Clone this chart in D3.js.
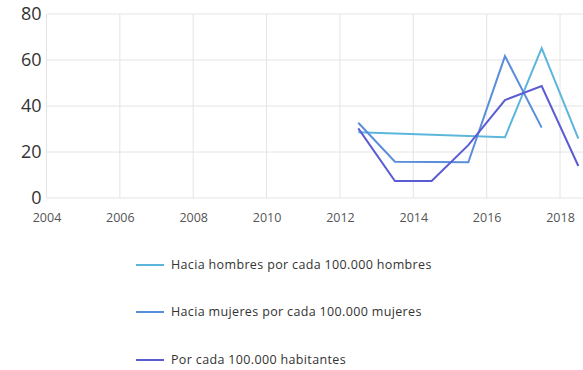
<!DOCTYPE html>
<html><head><meta charset="utf-8">
<script src="https://cdn.jsdelivr.net/npm/d3@7"></script>
<style>body{margin:0;background:#fff;}svg{display:block;}</style>
</head><body>
<div id="chart"></div>
<script>
const xTicks = [2004, 2006, 2008, 2010, 2012, 2014, 2016, 2018];
const yTicks = [0, 20, 40, 60, 80];
const seriesNames = ["Hacia hombres por cada 100.000 hombres", "Hacia mujeres por cada 100.000 mujeres", "Por cada 100.000 habitantes"];
const colors = ["#5cb6dc", "#5a8edb", "#5b5bd3"];
const hombresYears = [2012.5, 2016.5, 2017.5, 2018.5];
const hombresValues = [28.6, 26.4, 65.2, 25.8];
const mujeresYears = [2012.5, 2013.5, 2014.5, 2015.5, 2016.5, 2017.5];
const mujeresValues = [32.7, 15.8, 15.7, 15.5, 61.7, 30.6];
const habitantesYears = [2012.5, 2013.5, 2014.5, 2015.5, 2016.5, 2017.5, 2018.5];
const habitantesValues = [30.3, 7.4, 7.4, 23.0, 42.6, 48.7, 13.9];

const W = 583, H = 370;
const svg = d3.select("#chart").append("svg").attr("width", W).attr("height", H);
const x = d3.scaleLinear().domain([2004, 2018]).range([46.5, 560]);
const y = d3.scaleLinear().domain([0, 80]).range([198, 14]);
const plotRight = W;

// gridlines
const g = svg.append("g");
g.selectAll(".hg").data(yTicks).enter().append("line")
  .attr("x1", x(2004)).attr("x2", plotRight)
  .attr("y1", d => y(d)).attr("y2", d => y(d))
  .attr("stroke", "#e4e4e4").attr("stroke-width", 1);
g.selectAll(".vg").data(xTicks).enter().append("line")
  .attr("x1", d => x(d)).attr("x2", d => x(d))
  .attr("y1", y(80)).attr("y2", y(0))
  .attr("stroke", "#e4e4e4").attr("stroke-width", 1);

// axes
const yAxis = d3.axisLeft(y).tickValues(yTicks).tickSize(0).tickPadding(5).tickFormat(d3.format("d"));
const ya = svg.append("g").attr("transform", `translate(${x(2004)},0)`).call(yAxis);
ya.select(".domain").remove();
ya.selectAll("text").attr("font-family", "'Open Sans', sans-serif").attr("font-size", 18).attr("fill", "#333").attr("dy", "0.3em");

const xAxis = d3.axisBottom(x).tickValues(xTicks).tickSize(0).tickPadding(15).tickFormat(d3.format("d"));
const xa = svg.append("g").attr("transform", `translate(0,${y(0)})`).call(xAxis);
xa.select(".domain").remove();
xa.selectAll("text").attr("font-family", "'Open Sans', sans-serif").attr("font-size", 12.5).attr("fill", "#555");

// lines
const series = [
  {years: hombresYears, values: hombresValues},
  {years: mujeresYears, values: mujeresValues},
  {years: habitantesYears, values: habitantesValues}
];
const line = d3.line().x(d => x(d[0])).y(d => y(d[1]));
series.forEach((s, i) => {
  svg.append("path")
    .datum(s.years.map((yr, j) => [yr, s.values[j]]))
    .attr("d", line).attr("fill", "none")
    .attr("stroke", colors[i]).attr("stroke-width", 2)
    .attr("stroke-linejoin", "miter");
});

// legend
const legY = [265, 312, 360];
seriesNames.forEach((n, i) => {
  svg.append("line").attr("x1", 136).attr("x2", 164).attr("y1", legY[i]).attr("y2", legY[i])
    .attr("stroke", colors[i]).attr("stroke-width", 2);
  svg.append("text").attr("x", 171).attr("y", legY[i]).attr("dy", "0.35em")
    .attr("font-family", "'Open Sans', sans-serif").attr("font-size", 12.5).attr("letter-spacing", "0.35px").attr("fill", "#333").text(n);
});
</script>
</body></html>
